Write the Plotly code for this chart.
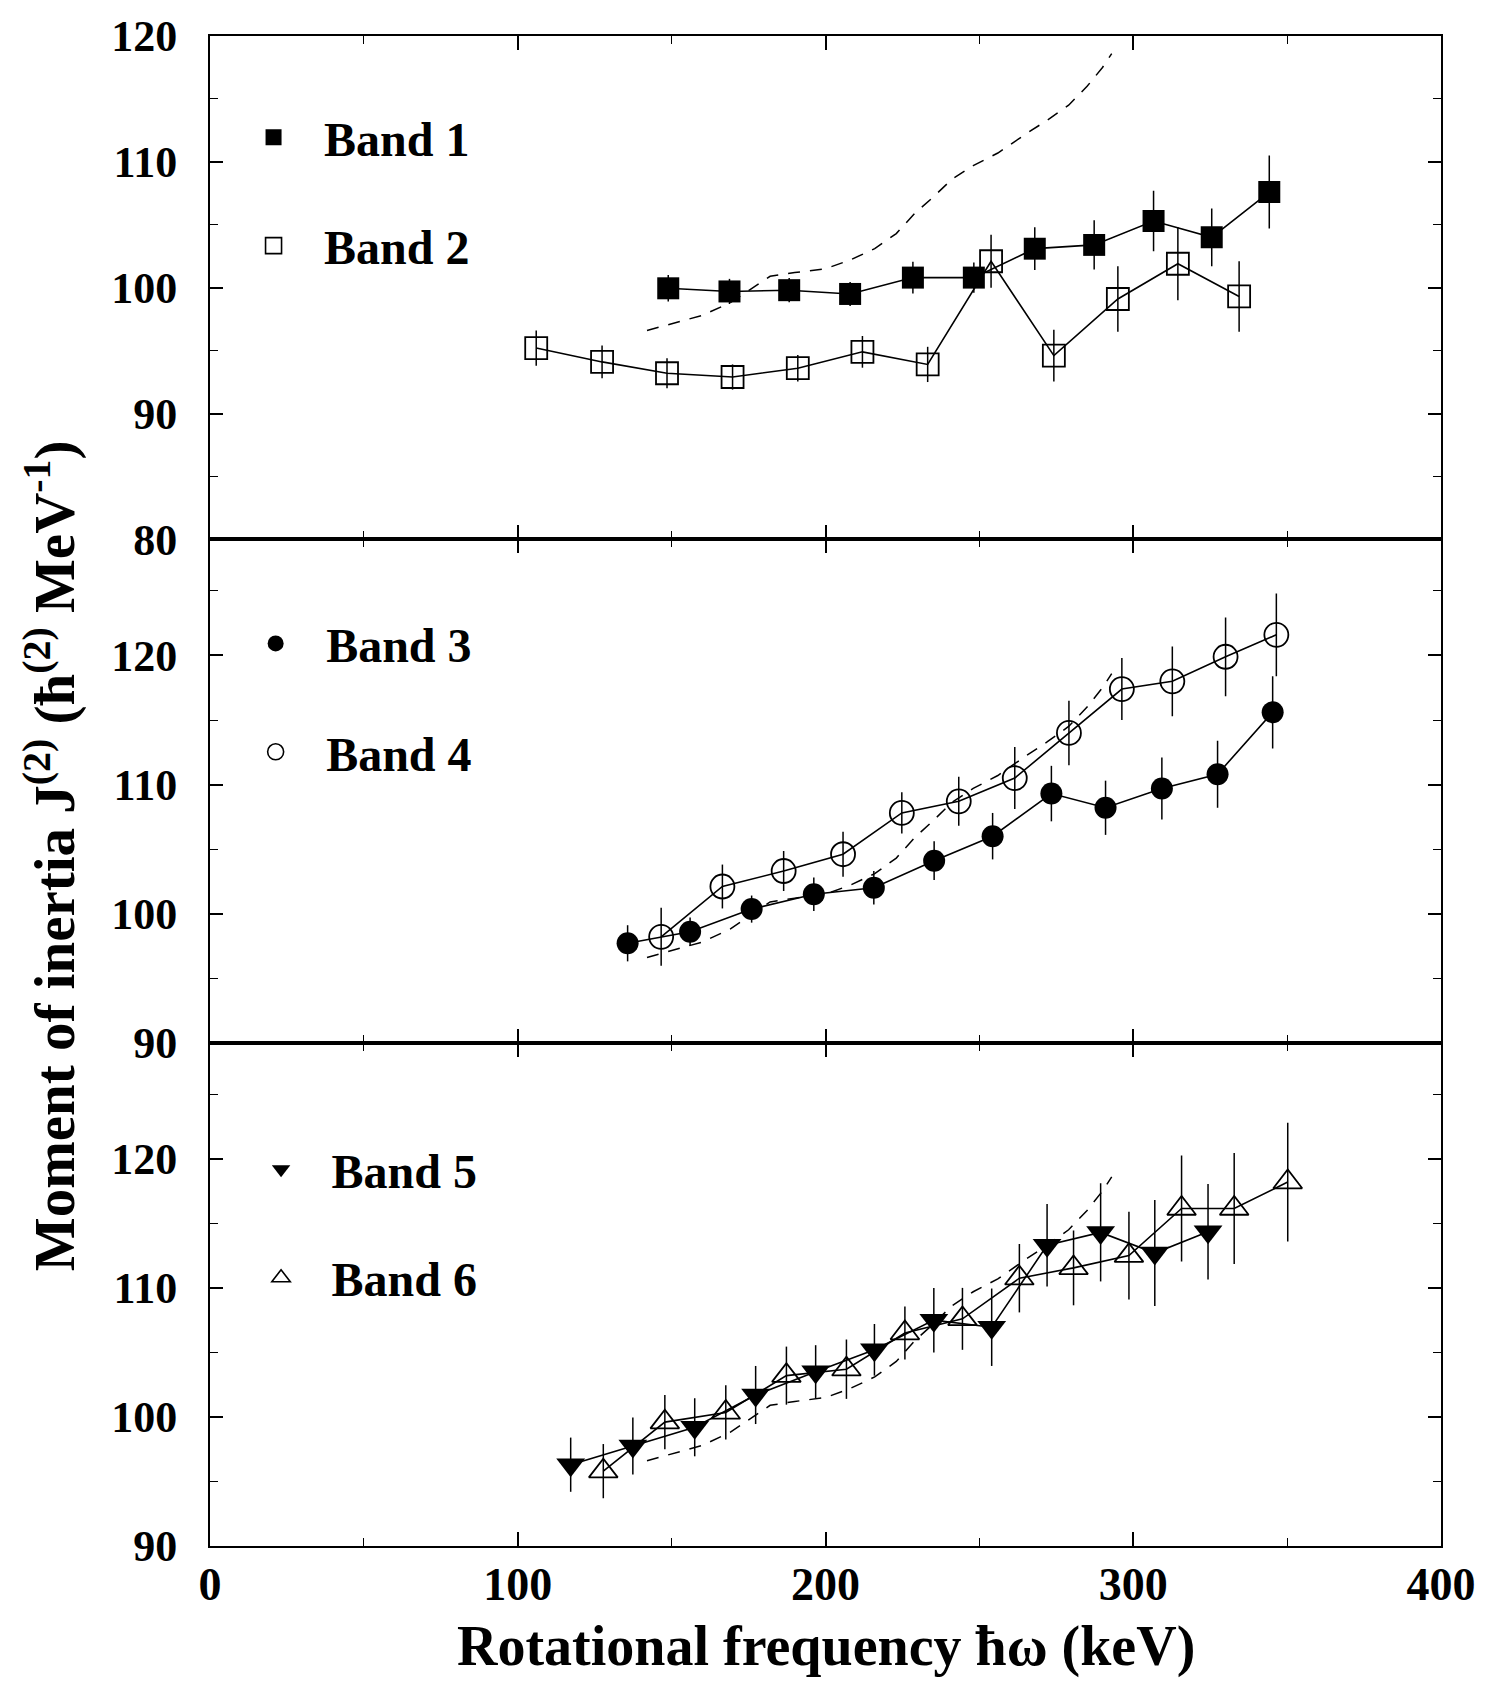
import plotly.graph_objects as go
from plotly.subplots import make_subplots

# ---------------- data ----------------
band1_x = [148.9, 168.8, 188.2, 208.0, 228.4, 248.2, 268.0, 287.3, 306.6, 325.5, 344.2]
band1_y = [99.95, 99.7, 99.8, 99.5, 100.8, 100.8, 103.1, 103.4, 105.3, 104.0, 107.6]
band1_e = [1.05, 1.0, 0.96, 0.96, 1.26, 1.2, 1.7, 1.96, 2.4, 2.3, 2.9]

band2_x = [106.0, 127.4, 148.5, 169.8, 191.0, 212.0, 233.2, 253.8, 274.2, 295.0, 314.5, 334.4]
band2_y = [95.2, 94.1, 93.2, 92.9, 93.6, 94.9, 93.9, 102.1, 94.6, 99.1, 101.9, 99.3]
band2_e = [1.4, 1.3, 1.2, 1.0, 1.05, 1.26, 1.4, 2.1, 2.05, 2.6, 2.9, 2.8]

band3_x = [135.7, 156.0, 176.0, 196.2, 215.7, 235.3, 254.3, 273.4, 291.0, 309.3, 327.4, 345.3]
band3_y = [97.7, 98.6, 100.35, 101.5, 102.0, 104.1, 106.0, 109.3, 108.2, 109.7, 110.8, 115.6]
band3_e = [1.4, 1.1, 1.05, 1.3, 1.3, 1.5, 1.8, 2.15, 2.1, 2.4, 2.6, 2.8]

band4_x = [146.6, 166.5, 186.4, 205.7, 224.8, 243.3, 261.5, 279.1, 296.3, 312.7, 330.0, 346.5]
band4_y = [98.2, 102.1, 103.3, 104.6, 107.8, 108.7, 110.5, 114.0, 117.4, 118.0, 119.9, 121.6]
band4_e = [2.25, 1.7, 1.55, 1.75, 1.6, 1.9, 2.4, 2.5, 2.4, 2.7, 3.05, 3.2]

band5_x = [117.2, 137.4, 157.5, 177.3, 196.8, 215.9, 235.2, 254.0, 272.0, 289.4, 307.0, 324.3]
band5_y = [96.3, 97.75, 99.2, 101.7, 103.5, 105.2, 107.5, 106.95, 113.3, 114.3, 112.7, 114.35]
band5_e = [2.1, 2.2, 2.25, 2.25, 2.06, 2.0, 2.5, 3.0, 3.2, 3.8, 4.1, 3.7]

band6_x = [127.8, 147.8, 167.6, 187.3, 206.8, 225.8, 244.5, 263.0, 280.6, 298.6, 315.7, 332.8, 350.2]
band6_y = [95.8, 99.6, 100.35, 103.2, 103.7, 106.5, 107.6, 110.75, 111.55, 112.5, 116.15, 116.15, 118.2]
band6_e = [2.1, 2.1, 2.1, 2.25, 2.3, 2.05, 2.4, 2.65, 2.9, 3.4, 4.1, 4.3, 4.6]

# reference (calculated) curve, dashed, same in all panels
calc_x = [142, 151, 160, 169, 176, 182, 190, 200, 208, 216, 223, 229, 235, 241, 248, 256,
          265, 272, 279, 285, 290, 293]
calc_y = [96.6, 97.2, 97.8, 98.8, 99.9, 100.9, 101.2, 101.5, 102.2, 103.1, 104.3, 105.9,
          107.2, 108.6, 109.7, 110.7, 112.2, 113.3, 114.5, 116.0, 117.5, 118.6]

x_range = [0, 400]
y_ranges = [[80, 120], [90, 129], [90, 129]]
band_names = ["Band 1", "Band 2", "Band 3", "Band 4", "Band 5", "Band 6"]

# ---------------- figure ----------------
FONT = "Liberation Serif"
fig = make_subplots(rows=3, cols=1, shared_xaxes=True, vertical_spacing=0)

bands = [
    (band1_x, band1_y, band1_e, "square", 22, 1, "legend", band_names[0]),
    (band2_x, band2_y, band2_e, "square-open", 22, 1, "legend", band_names[1]),
    (band3_x, band3_y, band3_e, "circle", 22, 2, "legend2", band_names[2]),
    (band4_x, band4_y, band4_e, "circle-open", 24, 2, "legend2", band_names[3]),
    (band5_x, band5_y, band5_e, "triangle-down", 25, 3, "legend3", band_names[4]),
    (band6_x, band6_y, band6_e, "triangle-up-open", 25, 3, "legend3", band_names[5]),
]

for row in (1, 2, 3):
    fig.add_trace(go.Scatter(x=calc_x, y=calc_y, mode="lines",
                             line=dict(color="black", width=1.5, dash="12px,10px"),
                             showlegend=False, hoverinfo="skip"), row=row, col=1)

for i, (bx, by, be, sym, sz, row, leg, name) in enumerate(bands):
    is_open = sym.endswith("open")
    mk = dict(symbol=sym, size=sz, color="black",
              line=dict(color="black", width=1.8 if is_open else 0))
    fig.add_trace(go.Scatter(x=bx, y=by, mode="lines+markers",
                             line=dict(color="black", width=1.6),
                             marker=mk,
                             error_y=dict(type="data", array=be, visible=True,
                                          color="black", thickness=1.5, width=0),
                             showlegend=False), row=row, col=1)
    lmk = dict(symbol=sym, size=16, color="black",
               line=dict(color="black", width=1.6 if is_open else 0))
    fig.add_trace(go.Scatter(x=[None], y=[None], mode="markers", marker=lmk,
                             name=name, legend=leg, legendgroup=name,
                             showlegend=True), row=row, col=1)

axis_common = dict(showline=True, linecolor="black", linewidth=2, mirror="ticks",
                   ticks="inside", tickcolor="black", tickwidth=1.5,
                   showgrid=False, zeroline=False)

for r in (1, 2, 3):
    fig.update_xaxes(range=x_range, dtick=100, tick0=0, ticklen=14,
                     minor=dict(dtick=50, ticklen=8, ticks="inside", tickcolor="black", tickwidth=1.2),
                     showticklabels=(r == 3),
                     tickfont=dict(family=FONT, size=46, color="black", weight="bold"),
                     ticklabelstandoff=-3,
                     row=r, col=1, **axis_common)
    fig.update_yaxes(range=y_ranges[r - 1], dtick=10, tick0=0, ticklen=13,
                     minor=dict(dtick=5, ticklen=8, ticks="inside", tickcolor="black", tickwidth=1.2),
                     tickfont=dict(family=FONT, size=44, color="black", weight="bold"),
                     ticklabelstandoff=22,
                     row=r, col=1, **axis_common)

legend_style = dict(font=dict(family=FONT, size=48, color="black", weight="bold"),
                    bgcolor="rgba(0,0,0,0)", borderwidth=0, itemwidth=91,
                    tracegroupgap=43, xanchor="left", yanchor="top", itemsizing="trace")

fig.update_layout(
    width=1502, height=1682,
    margin=dict(l=210, r=61, t=30, b=136),
    paper_bgcolor="white", plot_bgcolor="white",
    font=dict(family=FONT, color="black"),
    legend=dict(x=0.0106, y=0.9579, **legend_style),
    legend2=dict(x=0.0123, y=0.6227, **legend_style),
    legend3=dict(x=0.0167, y=0.2744, **legend_style),
    annotations=[
        dict(text="<b>Rotational frequency ħω (keV)</b>", xref="paper", yref="paper",
             x=0.5, y=-0.0666, xanchor="center", yanchor="middle", showarrow=False,
             font=dict(family=FONT, size=56, color="black")),
        dict(text="<b>Moment of inertia J<sup>(2)</sup> (ħ<sup>(2)</sup> MeV<sup>-1</sup>)</b>",
             xref="paper", yref="paper", x=-0.129, y=0.457, xanchor="center", yanchor="middle",
             textangle=-90, showarrow=False,
             font=dict(family=FONT, size=57, color="black")),
    ],
)

fig.write_html("out.html")
